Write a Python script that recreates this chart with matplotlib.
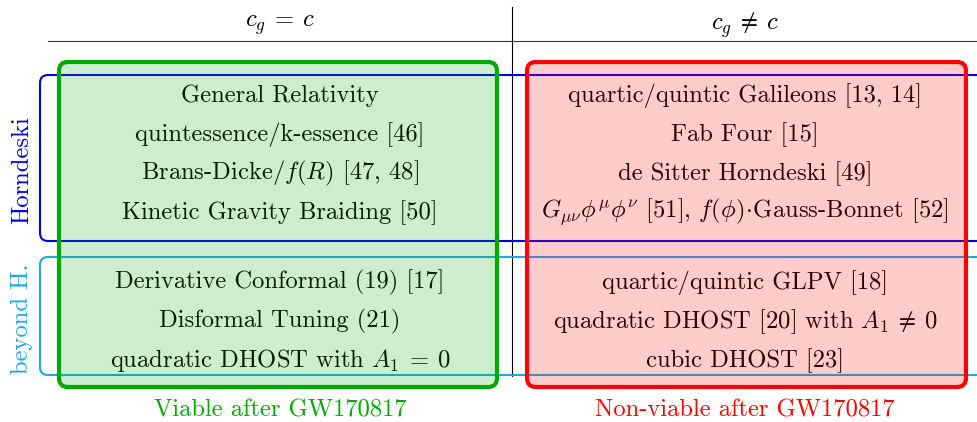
import matplotlib
matplotlib.use('Agg')
import matplotlib.pyplot as plt
from matplotlib.patches import FancyBboxPatch

plt.rcParams['font.family'] = 'cmr10'
plt.rcParams['mathtext.fontset'] = 'cm'
plt.rcParams['axes.formatter.use_mathtext'] = True

# column headers and the theory names in each cell
headers = [r'$c_g\:=\:c$', r'$c_g\:\neq\:c$']
horn_left = ['General Relativity', 'quintessence/k-essence [46]',
             r'Brans-Dicke/$f(R)$ [47, 48]', 'Kinetic Gravity Braiding [50]']
horn_right = ['quartic/quintic Galileons [13, 14]', 'Fab Four [15]',
              'de Sitter Horndeski [49]',
              r'$G_{\mu\nu}\phi^{\mu}\phi^{\nu}$ [51], $f(\phi)\!\cdot\!$Gauss-Bonnet [52]']
beyond_left = ['Derivative Conformal (19) [17]', 'Disformal Tuning (21)',
               r'quadratic DHOST with $A_1\:=\:0$']
beyond_right = ['quartic/quintic GLPV [18]', r'quadratic DHOST [20] with $A_1\:\neq\:0$',
                'cubic DHOST [23]']
row_labels = ['Horndeski', 'beyond H.']
verdicts = ['Viable after GW170817', 'Non-viable after GW170817']

green = '#00aa00'
red = '#ff0000'
blue = '#0000ee'
cyan = '#1caae6'
fs = 17.7

fig = plt.figure(figsize=(9.77, 4.22), dpi=100)
ax = fig.add_axes([0, 0, 1, 1])
ax.set_xlim(0, 977)
ax.set_ylim(422, 0)
ax.axis('off')

# table rules
ax.plot([48, 977], [41, 41], color='#333333', lw=0.8, zorder=1)
ax.plot([512, 512], [7, 376], color='black', lw=0.8, zorder=1)

xl, xr = 280, 745
for x, h in zip([xl, xr], headers):
    ax.text(x, 25, h, ha='center', va='center', fontsize=fs, zorder=1)

# horndeski / beyond brackets (open to the right)
for (y0, y1), yl, c, lab in zip([(75, 241), (257, 375)], [170, 319], [blue, cyan], row_labels):
    ax.add_patch(FancyBboxPatch((40, y0), 1000, y1 - y0,
                                boxstyle='round,pad=0,rounding_size=8',
                                fill=False, ec=c, lw=1.5, zorder=1))
    ax.text(22, yl, lab, rotation=90, ha='center', va='center',
            color=c, fontsize=fs, zorder=1)

# cell texts
ys_h = [95.5, 134.5, 173.5, 212.5]
ys_b = [282.5, 321.5, 360.5]
for x, top, bot in [(xl, horn_left, beyond_left), (xr, horn_right, beyond_right)]:
    for y, t in zip(ys_h, top):
        ax.text(x, y, t, ha='center', va='center', fontsize=fs, zorder=1)
    for y, t in zip(ys_b, bot):
        ax.text(x, y, t, ha='center', va='center', fontsize=fs, zorder=1)

# viable / non-viable boxes: translucent fill over everything, solid edge on top
for x0, x1, c in [(59, 497, green), (527, 966, red)]:
    ax.add_patch(FancyBboxPatch((x0, 62), x1 - x0, 325,
                                boxstyle='round,pad=0,rounding_size=9',
                                fc=c, alpha=0.2, ec='none', zorder=2))
    ax.add_patch(FancyBboxPatch((x0, 62), x1 - x0, 325,
                                boxstyle='round,pad=0,rounding_size=9',
                                fill=False, ec=c, lw=3, zorder=3))

for x, t, c in zip([xl, xr], verdicts, [green, red]):
    ax.text(x, 410, t, ha='center', va='center', color=c, fontsize=fs)

fig.savefig('out.png', dpi=100)
